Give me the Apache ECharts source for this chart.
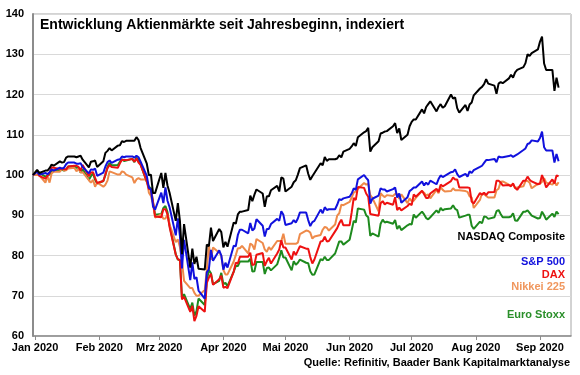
<!DOCTYPE html>
<html>
<head>
<meta charset="utf-8">
<script src="https://cdn.jsdelivr.net/npm/echarts@6/dist/echarts.min.js"></script>
<style>
  html, body { margin: 0; padding: 0; background: #fff; }
  #chart { width: 580px; height: 375px; }
</style>
</head>
<body>
<div id="chart"></div>
<script>
// Handelstage (Mo-Fr), pro Monat
const tradingDays = [
  ['2019-12', [31]],
  ['2020-01', [2,3,6,7,8,9,10,13,14,15,16,17,20,21,22,23,24,27,28,29,30,31]],
  ['2020-02', [3,4,5,6,7,10,11,12,13,14,17,18,19,20,21,24,25,26,27,28]],
  ['2020-03', [2,3,4,5,6,9,10,11,12,13,16,17,18,19,20,23,24,25,26,27,30,31]],
  ['2020-04', [1,2,3,6,7,8,9,10,13,14,15,16,17,20,21,22,23,24,27,28,29,30]],
  ['2020-05', [1,4,5,6,7,8,11,12,13,14,15,18,19,20,21,22,25,26,27,28,29]],
  ['2020-06', [1,2,3,4,5,8,9,10,11,12,15,16,17,18,19,22,23,24,25,26,29,30]],
  ['2020-07', [1,2,3,6,7,8,9,10,13,14,15,16,17,20,21,22,23,24,27,28,29,30,31]],
  ['2020-08', [3,4,5,6,7,10,11,12,13,14,17,18,19,20,21,24,25,26,27,28,31]],
  ['2020-09', [1,2,3,4,7,8,9,10]]
];

// Monatsanfänge und Achsenbeschriftung
const monthStarts = ['2020-01-01','2020-02-01','2020-03-01','2020-04-01','2020-05-01',
  '2020-06-01','2020-07-01','2020-08-01','2020-09-01'];
const monthLabels = ['Jan 2020','Feb 2020','Mrz 2020','Apr 2020','Mai 2020',
  'Jun 2020','Jul 2020','Aug 2020','Sep 2020'];
const xStart = '2019-12-31';
const xEnd = '2020-09-16';
const yTicks = [60, 70, 80, 90, 100, 110, 120, 130, 140];

const nasdaq = [100,
  101.3,100.5,101.1,101.1,101.7,102.6,102.3, 103.4,103.1,103.2,104.3,104.6, 104.6,104.4,104.6,104.8,103.8, 101.9,103.3,103.4,103.6,102.0,
  103.4,105.5,106.0,106.7,106.1, 107.3,107.4,108.4,108.2,108.5, 108.5,108.5,109.4,108.7,106.7, 102.8,99.9,100.1,95.5,95.5,
  100.5,96.8,100.5,97.4,95.6, 88.6,93.0,88.6,80.3,87.8, 77.0,81.7,77.9,79.7,76.7, 76.5,82.7,82.3,86.9,83.6, 86.6,85.8,
  82.0,83.4,82.2, 88.2,87.9,90.2,90.9,90.9, 91.3,94.9,93.5,95.1,96.4, 95.4,92.1,94.7,94.7,96.2, 97.3,95.9,99.4,99.1,
  95.9, 97.1,98.2,98.7,100.1,101.7, 102.4,100.3,98.8,99.7,100.5, 102.9,102.4,104.5,103.5,103.9, 103.9,104.1,104.9,104.4,105.8,
  106.5,107.1,107.9,107.2,109.4, 110.6,110.9,111.7,105.8,106.9, 108.4,110.3,110.5,110.8,110.9, 112.1,112.9,110.4,111.6,108.7, 110.0,112.1,
  113.2,113.8,113.8, 116.3,115.3,116.9,117.6,118.3, 115.8,116.9,117.6,116.7,117.1, 120.0,119.0,119.3,116.6,115.5, 117.4,115.9,117.5,118.0,119.8,
  121.5,121.9,122.6,123.8,122.7, 122.2,120.2,122.7,123.1,122.8, 124.0,124.9,124.2,125.5,126.1, 126.8,127.8,130.0,129.6,130.3, 131.2,
  133.1,134.4,127.7,126.1, 126.1,120.9,124.2,121.7
];

const sp500 = [100,
  100.8,100.1,100.5,100.2,100.7,101.4,101.1, 101.8,101.6,101.8,102.7,103.1, 103.1,102.8,102.8,102.9,102.0, 100.4,101.4,101.3,101.6,99.8,
  100.6,102.1,103.2,103.6,103.0, 103.8,103.9,104.6,104.4,104.6, 104.6,104.3,104.8,104.4,103.3, 99.8,96.8,96.5,92.2,91.4,
  95.6,93.0,96.9,93.6,92.0, 85.0,89.2,84.9,76.8,83.9, 73.9,78.3,74.2,74.6,71.3, 69.3,75.8,76.6,81.4,78.7, 81.3,80.0,
  76.5,78.2,77.0, 82.4,82.3,85.1,86.4,86.4, 85.5,88.1,86.2,86.7,89.0, 87.4,84.7,86.6,86.6,87.8, 89.1,88.6,91.0,90.1,
  87.6, 88.0,88.8,88.2,89.2,90.7, 90.7,88.8,87.3,88.3,88.6, 91.4,90.5,92.0,91.3,91.5, 91.5,92.6,94.0,93.8,94.2,
  94.6,95.4,96.7,96.3,98.9, 100.0,99.3,98.7,92.9,94.1, 94.9,96.7,96.4,96.4,95.9, 96.5,96.9,94.4,95.4,93.1, 94.5,96.0,
  96.4,96.9,96.9, 98.4,97.4,98.1,97.6,98.6, 97.7,99.0,99.9,99.5,99.8, 100.7,100.8,101.4,100.2,99.5, 100.3,99.6,100.9,100.5,101.2,
  102.0,102.3,103.0,103.7,103.7, 104.0,103.2,104.6,104.4,104.4, 104.7,104.9,104.5,104.8,105.1, 106.2,106.6,107.7,107.9,108.6, 108.3,
  109.2,110.8,106.9,106.1, 106.1,103.1,105.2,103.4
];

const dax = [100,
  101.0,99.8,99.1,99.8,100.5,101.9,101.8, 101.5,101.6,101.4,101.4,102.1, 102.3,102.3,102.0,101.1,102.5, 99.7,100.6,100.7,99.3,98.0,
  98.5,100.2,101.7,102.5,102.0, 101.8,102.9,103.8,103.7,103.7, 104.0,103.3,104.1,103.1,102.5, 98.4,96.5,96.4,93.3,89.7,
  89.5,91.5,91.5,90.2,87.1, 80.2,79.1,78.8,69.1,69.7, 66.0,67.5,63.7,65.0,67.4, 66.0,73.2,74.5,75.5,72.7, 74.1,75.0,
  72.0,72.2,71.9, 76.0,78.2,78.0,79.7,79.7, 79.7,80.7,77.6,77.8,80.2, 80.6,77.4,78.6,79.4,78.0, 80.5,81.5,83.8,82.0,
  82.0, 79.0,81.0,80.1,81.2,82.3, 81.7,81.7,79.6,78.0,79.0, 83.5,83.6,84.7,83.5,83.6, 86.0,86.8,88.0,88.9,87.5,
  87.5,90.7,94.3,93.8,97.0, 96.8,95.4,94.6,90.3,90.2, 89.9,93.0,93.5,92.7,93.1, 92.6,94.5,91.3,91.9,91.2, 92.3,92.9,
  92.5,95.2,94.6, 96.1,95.2,94.3,94.3,95.4, 96.6,95.8,97.6,97.2,97.5, 98.5,99.4,98.9,98.9,96.9, 96.9,96.9,96.8,93.4,92.9,
  95.5,95.1,95.6,95.0,95.7, 95.8,98.6,98.6,98.1,97.4, 97.5,97.2,97.9,96.8,96.3, 98.6,98.6,99.6,98.8,98.4, 97.7,
  97.9,100.0,98.6,96.9, 98.9,97.9,99.9,99.7
];

const nikkei = [100,
  100,100,98.1,99.7,98.1,100.4,100.8, 100.8,101.6,101.1,101.2,101.6, 101.8,100.9,101.6,100.6,100.7, 98.7,98.1,98.8,97.1,98.1,
  97.1,97.6,98.6,100.9,100.7, 100.1,100.1,100.9,100.7,100.1, 99.4,98.0,98.9,99.2,98.9, 98.9,95.6,94.8,92.8,89.4,
  90.2,89.1,89.2,90.2,87.7, 83.3,84.0,82.1,78.5,73.7, 71.9,71.9,70.7,70.0,70.0, 71.4,76.5,82.6,78.9,82.0, 80.7,80.0,
  76.4,75.3,75.3, 78.5,80.1,81.8,81.8,82.4, 80.5,83.0,82.6,81.5,84.1, 83.1,81.5,80.9,82.1,81.4, 83.6,83.6,83.6,85.4,
  82.9, 82.9,82.9,82.9,83.2,85.3, 86.2,86.1,85.7,84.2,84.7, 85.1,86.4,87.1,86.9,86.2, 87.7,89.9,90.5,92.6,92.5,
  93.3,94.4,95.6,95.9,96.6, 98.0,97.6,97.8,95.0,94.3, 91.0,95.5,94.9,94.5,95.0, 94.8,95.3,95.3,94.1,95.2, 93.0,94.2,
  93.5,93.6,94.3, 96.0,95.6,94.9,95.2,94.2, 96.3,95.5,97.0,96.3,95.9, 96.0,96.7,96.2,96.2,96.2, 96.0,95.8,94.7,94.4,91.8,
  93.8,95.4,95.2,94.8,94.4, 94.4,96.2,96.6,98.3,98.4, 97.6,97.4,97.7,96.7,96.9, 97.2,98.5,98.5,98.1,96.7, 97.8,
  97.8,98.3,99.2,98.1, 97.6,98.4,97.4,98.2
];

const euroStoxx = [100,
  101.1,100.5,99.6,99.9,100.1,101.0,101.1, 101.1,101.3,101.1,101.3,102.1, 102.2,101.8,101.8,100.6,101.4, 98.8,99.7,100.4,98.8,97.9,
  98.5,100.0,102.0,103.0,102.4, 102.5,103.3,103.9,103.5,103.6, 104.0,103.2,104.3,103.7,102.6, 98.3,97.1,96.7,93.2,90.1,
  90.3,91.8,92.3,90.8,87.5, 80.3,79.0,78.9,69.3,70.4, 66.7,68.3,65.0,66.2,69.3, 67.7,73.8,76.4,75.6,72.9, 73.7,75.7,
  72.9,73.2,72.4, 76.0,77.4,77.4,78.5,78.5, 78.5,79.2,76.0,76.1,78.4, 78.4,75.4,76.9,77.0,76.3, 77.8,79.4,81.3,79.5,
  79.5, 76.3,78.6,77.7,78.2,79.0, 78.2,78.1,76.1,75.2,75.3, 79.1,78.8,79.7,78.9,78.9, 80.5,82.0,83.5,83.5,82.7,
  83.9,86.2,88.6,88.2,91.7, 91.4,90.0,89.5,84.9,85.5, 84.7,87.9,88.9,88.2,88.4, 87.9,88.8,86.6,87.4,86.3, 87.5,87.8,
  87.7,90.2,89.4, 90.9,90.2,89.3,89.0,89.5, 91.2,90.6,91.8,91.2,91.5, 91.7,92.5,91.6,91.3,89.4, 89.9,90.1,90.1,87.4,86.6,
  88.4,88.0,89.7,89.6,89.1, 89.5,91.0,91.3,90.3,89.5, 89.5,89.7,90.5,88.7,88.6, 90.9,90.9,91.2,90.6,89.9, 89.2,
  89.3,90.9,90.0,88.9, 90.4,89.6,90.9,90.3
];

const seriesNames = ['Euro Stoxx', 'Nikkei 225', 'DAX', 'S&P 500', 'NASDAQ Composite'];
const seriesValues = [euroStoxx, nikkei, dax, sp500, nasdaq];
const seriesColors = ['#1e8a1e', '#ee8a4a', '#ee1111', '#1111dd', '#000000'];

const titleText = 'Entwicklung Aktienmärkte seit Jahresbeginn, indexiert';
const sourceText = 'Quelle: Refinitiv, Baader Bank Kapitalmarktanalyse';

// Kalendertage seit xStart (Datumsachse)
function dayNum(s) {
  var p = s.split('-');
  var a = Date.UTC(+p[0], +p[1] - 1, +p[2]);
  var q = xStart.split('-');
  var b = Date.UTC(+q[0], +q[1] - 1, +q[2]);
  return Math.round((a - b) / 86400000);
}

const dates = [];
tradingDays.forEach(function (m) {
  m[1].forEach(function (d) {
    dates.push(m[0] + '-' + (d < 10 ? '0' + d : '' + d));
  });
});
const monthDays = monthStarts.map(dayNum);

var FONT = '"Liberation Sans", Arial, sans-serif';
var chartDom = document.getElementById('chart');
var myChart = echarts.init(chartDom, null, { renderer: 'canvas' });

var option = {
  animation: false,
  backgroundColor: '#fff',
  grid: {
    left: 33, right: 9, top: 14, bottom: 39,
    show: true, borderColor: '#a6a6a6', borderWidth: 1
  },
  xAxis: {
    type: 'value',
    min: 0,
    max: dayNum(xEnd),
    axisLine: { show: true, lineStyle: { color: '#8c8c8c', width: 1.5 } },
    axisTick: { show: true, customValues: monthDays, length: 4, lineStyle: { color: '#8c8c8c' } },
    splitLine: { show: false },
    axisLabel: {
      customValues: monthDays,
      formatter: function (value) {
        var i = monthDays.indexOf(Math.round(value));
        return i >= 0 ? monthLabels[i] : '';
      },
      color: '#000', fontFamily: FONT, fontWeight: 'bold', fontSize: 11, margin: 6
    }
  },
  yAxis: {
    type: 'value',
    min: yTicks[0], max: yTicks[yTicks.length - 1], interval: 10,
    axisLine: { show: true, lineStyle: { color: '#8c8c8c', width: 2 } },
    axisTick: { show: false },
    splitLine: { show: true, lineStyle: { color: '#d9d9d9', width: 1 } },
    axisLabel: { color: '#000', fontFamily: FONT, fontWeight: 'bold', fontSize: 11, margin: 9 }
  },
  series: seriesNames.map(function (name, i) {
    return {
      name: name,
      type: 'line',
      showSymbol: false,
      symbol: 'none',
      lineStyle: { color: seriesColors[i], width: 2 },
      itemStyle: { color: seriesColors[i] },
      data: dates.map(function (d, k) { return [dayNum(d), seriesValues[i][k]]; })
    };
  }),
  graphic: [
    { type: 'text', x: 40, y: 25, style: { text: titleText, font: 'bold 14px ' + FONT, fill: '#000', textAlign: 'left', textVerticalAlign: 'middle' } },
    { type: 'text', x: 565, y: 237, style: { text: 'NASDAQ Composite', font: 'bold 11px ' + FONT, fill: '#000', textAlign: 'right', textVerticalAlign: 'middle' } },
    { type: 'text', x: 565, y: 262, style: { text: 'S&P 500', font: 'bold 11px ' + FONT, fill: '#1111dd', textAlign: 'right', textVerticalAlign: 'middle' } },
    { type: 'text', x: 565, y: 275, style: { text: 'DAX', font: 'bold 11px ' + FONT, fill: '#ee1111', textAlign: 'right', textVerticalAlign: 'middle' } },
    { type: 'text', x: 565, y: 287, style: { text: 'Nikkei 225', font: 'bold 11px ' + FONT, fill: '#f0975e', textAlign: 'right', textVerticalAlign: 'middle' } },
    { type: 'text', x: 565, y: 315, style: { text: 'Euro Stoxx', font: 'bold 11px ' + FONT, fill: '#2a8f2a', textAlign: 'right', textVerticalAlign: 'middle' } },
    { type: 'text', x: 570, y: 363, style: { text: sourceText, font: 'bold 11px ' + FONT, fill: '#000', textAlign: 'right', textVerticalAlign: 'middle' } }
  ]
};

option && myChart.setOption(option);
</script>
</body>
</html>
